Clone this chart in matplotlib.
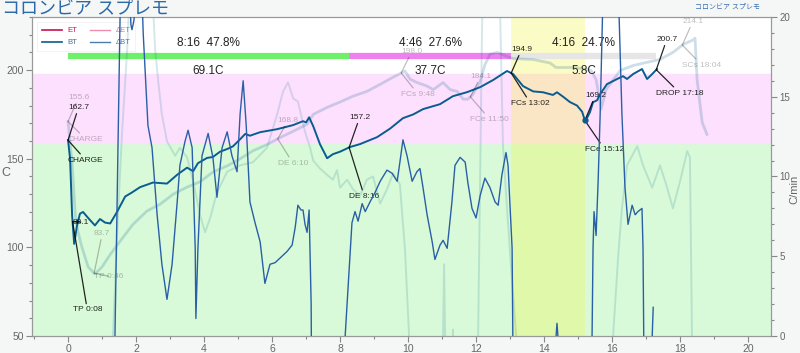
import numpy as np
import matplotlib.pyplot as plt
from matplotlib.lines import Line2D
from matplotlib.ticker import MultipleLocator

plt.rcParams['font.family'] = ['Liberation Sans', 'Noto Sans CJK JP', 'DejaVu Sans']

title = "コロンビア スプレモ"

# --- roast profile (time in minutes) ---
bt_time = [0.00, 0.06, 0.12, 0.18, 0.26, 0.35, 0.44, 0.62, 0.79, 0.94, 1.09, 1.24, 1.44, 1.68,
           1.88, 2.12, 2.50, 2.91, 3.21, 3.50, 3.68, 3.82, 4.09, 4.26, 4.47, 4.68, 4.85, 5.06,
           5.21, 5.35, 5.65, 6.15, 6.62, 6.91, 7.00, 7.09, 7.21, 7.41, 7.62, 7.79, 8.00, 8.29,
           8.59, 9.09, 9.47, 9.85, 10.15, 10.44, 10.94, 11.32, 11.74, 12.12, 12.50, 12.91, 13.09,
           13.38, 13.68, 13.97, 14.26, 14.38, 14.56, 14.76, 14.97, 15.12, 15.21, 15.35, 15.44,
           15.56, 15.65, 15.85, 16.15, 16.32, 16.44, 16.62, 16.88, 17.03, 17.18, 17.32]
bt_temp = [160.5, 150.0, 118.0, 102.0, 112.0, 119.0, 120.0, 116.0, 112.4, 116.0, 114.0, 113.5, 120.0, 128.7,
           131.0, 134.0, 136.6, 136.0, 141.0, 145.0, 143.0, 147.5, 150.5, 151.0, 154.0, 155.5, 157.0, 161.0,
           164.0, 163.0, 165.0, 166.7, 169.0, 171.2, 170.5, 173.4, 168.4, 158.2, 150.3, 152.6, 154.0, 156.6,
           158.3, 162.2, 167.0, 172.9, 175.0, 178.0, 180.8, 185.3, 187.6, 190.4, 194.4, 199.5, 197.8,
           191.0, 188.0, 187.5, 186.0, 187.5, 185.0, 182.0, 180.0, 176.5, 171.0, 176.3, 181.9,
           183.0, 186.5, 192.1, 195.0, 196.6, 195.0, 197.8, 200.6, 195.0, 197.8, 200.6]

dbt_time = [0.00, 1.20, 1.29, 1.38, 1.53, 1.59, 1.76, 1.85, 1.88, 1.94, 2.03, 2.12, 2.21, 2.35,
            2.47, 2.62, 2.76, 2.91, 3.06, 3.21, 3.29, 3.44, 3.53, 3.65, 3.74, 3.76, 3.82, 3.94,
            4.12, 4.26, 4.38, 4.53, 4.68, 4.82, 4.97, 5.06, 5.15, 5.24, 5.35, 5.50, 5.65, 5.79,
            5.94, 6.09, 6.24, 6.44, 6.59, 6.68, 6.76, 6.85, 6.91, 6.97, 7.03, 7.09, 7.15, 7.18,
            8.12, 8.15, 8.35, 8.44, 8.53, 8.65, 8.74, 8.88, 9.03, 9.18, 9.38, 9.53, 9.68, 9.76,
            9.85, 9.97, 10.12, 10.26, 10.35, 10.44, 10.56, 10.71, 10.79, 10.94, 11.03, 11.15, 11.29,
            11.38, 11.53, 11.68, 11.76, 11.88, 12.00, 12.12, 12.26, 12.41, 12.56, 12.65, 12.76,
            12.88, 12.94, 13.06, 13.12, 14.28, 14.32, 14.38, 14.44, 14.48, 15.36, 15.44, 15.47,
            15.53, 15.59, 15.65, 15.74, 15.79, 16.12, 16.18, 16.29, 16.38, 16.47, 16.59, 16.68,
            16.76, 16.88, 16.91, 16.97, 17.14, 17.18, 17.21]
dbt_rate = [-30.0, -10.0, -2.0, 0.0, 20.0, 26.0, 24.0, 19.5, 19.2, 19.8, 24.0, 25.0, 19.0, 13.2,
            11.8, 7.6, 4.5, 2.3, 4.5, 8.4, 10.7, 12.2, 12.9, 11.8, 5.5, 1.1, 5.5, 11.3,
            12.7, 11.2, 8.7, 11.8, 12.8, 11.3, 10.3, 13.9, 16.0, 13.2, 8.4, 7.1, 5.9, 3.3,
            4.5, 4.6, 4.9, 5.3, 5.7, 6.8, 8.2, 7.9, 7.9, 7.0, 6.5, 7.9, 2.0, -10.0,
            -10.0, 0.0, 7.1, 7.8, 7.2, 8.3, 7.8, 8.4, 9.0, 9.7, 10.4, 10.2, 9.7, 10.9,
            12.3, 11.3, 9.7, 10.3, 10.5, 9.3, 7.6, 5.9, 4.8, 5.7, 6.0, 5.5, 8.4,
            10.7, 11.2, 10.9, 9.6, 8.0, 7.4, 8.8, 9.9, 9.3, 8.4, 8.2, 10.1,
            11.5, 10.7, 5.5, -10.0, -10.0, -1.0, 0.8, -1.0, -10.0, -10.0, 5.5, 7.8,
            6.3, 9.7, 13.9, 22.0, 30.0, 30.0, 22.0, 13.9, 9.3, 7.0, 8.2, 7.6,
            7.8, 8.0, 5.5, -10.0, -10.0, 0.0, 1.8]

# --- background profile ---
bg_bt_time = [0.00, 0.12, 0.21, 0.29, 0.41, 0.59, 0.79, 1.00, 1.24, 1.53, 1.91, 2.32, 2.71, 3.09,
              3.50, 3.88, 4.26, 4.68, 5.06, 5.44, 5.85, 6.24, 6.62, 7.03, 7.21, 7.62, 8.00, 8.38,
              8.79, 9.18, 9.56, 9.91, 10.06, 10.26, 10.56, 10.74, 11.03, 11.24, 11.44, 11.62, 11.76,
              11.91, 12.12, 12.26, 12.41, 12.62, 12.91, 13.09, 13.68, 14.18, 14.35, 14.56, 14.94,
              15.24, 15.38, 15.53, 15.68, 15.82, 16.24, 16.62, 17.00, 17.41, 17.79, 18.09, 18.38,
              18.44, 18.50, 18.65, 18.79]
bg_bt_temp = [171.0, 147.0, 119.0, 109.0, 100.0, 89.0, 85.0, 89.0, 96.0, 103.5, 113.0, 120.5, 124.4, 130.0,
              134.0, 137.0, 142.5, 146.0, 150.0, 154.5, 158.0, 162.0, 165.5, 169.5, 175.0, 179.0, 182.0, 185.3,
              188.0, 192.0, 196.0, 199.5, 194.9, 193.0, 191.0, 189.0, 193.0, 189.0, 188.0, 183.6, 183.6,
              186.4, 193.7, 203.0, 209.0, 210.0, 207.8, 206.5, 206.0, 204.0, 201.5, 201.5, 201.5,
              200.4, 199.8, 194.7, 178.0, 189.0, 199.8, 202.6, 204.3, 206.0, 210.0, 214.5, 217.0,
              218.0, 194.8, 170.5, 163.8]

bg_dbt_time = [0.00, 1.24, 1.32, 1.47, 1.59, 1.74, 1.82, 1.97, 2.35, 2.47, 2.56, 2.65, 2.76, 2.91,
               3.15, 3.29, 3.50, 3.68, 3.88, 4.03, 4.18, 4.38, 4.68, 5.06, 5.44, 5.85, 6.15, 6.32,
               6.47, 6.62, 6.76, 6.97, 7.12, 7.21, 7.41, 7.62, 7.79, 7.91, 8.00, 8.21, 8.38, 8.59,
               8.79, 8.97, 9.18, 9.38, 9.56, 9.76, 9.91, 10.03, 10.06, 10.97, 11.03, 11.06, 11.09,
               11.12, 11.29, 11.32, 11.35, 12.00, 12.06, 12.12, 12.18, 12.24, 12.65, 12.71, 12.79,
               12.91, 13.06, 13.18, 13.24, 15.97, 16.03, 16.18, 16.29, 16.44, 16.74, 16.91, 17.18,
               17.41, 17.62, 17.79, 18.00, 18.21, 18.29, 18.35, 18.38]
bg_dbt_rate = [-30.0, -5.0, 0.0, 7.6, 12.8, 18.0, 22.0, 30.0, 30.0, 22.0, 18.0, 16.0, 13.9, 12.2,
               11.3, 11.8, 11.2, 9.7, 7.6, 6.5, 7.4, 9.0, 10.3, 10.7, 10.9, 11.8, 13.9, 15.3,
               15.9, 14.9, 14.7, 12.8, 11.8, 11.0, 10.5, 10.1, 9.8, 10.4, 9.3, 9.8, 9.2, 8.8,
               9.8, 10.0, 8.3, 9.2, 10.2, 9.5, 5.4, 0.0, -10.0, -10.0, 0.0, 4.5, 0.0,
               -10.0, -10.0, 0.4, -10.0, -10.0, 0.0, 10.0, 20.0, 30.0, 30.0, 20.0, 12.0,
               8.0, 3.4, 0.0, -10.0, -10.0, 0.0, 5.0, 8.0, 10.7, 11.9, 10.7, 9.3,
               10.7, 9.3, 8.0, 9.7, 11.6, 11.2, 0.0, -10.0]

# --- events ---
event_names = ["CHARGE", "TP", "DE", "FCs", "FCe", "DROP"]
event_times = [0.0, 0.133, 8.267, 13.033, 15.2, 17.3]
event_temps = ["162.7", "88.1", "157.2", "194.9", "169.2", "200.7"]
event_clock = ["", "0:08", "8:16", "13:02", "15:12", "17:18"]

bg_event_names = ["CHARGE", "TP", "DE", "FCs", "FCe", "SCs"]
bg_event_times = [0.0, 0.767, 6.167, 9.8, 11.833, 18.067]
bg_event_temps = ["155.6", "83.7", "168.8", "198.0", "184.1", "214.1"]
bg_event_clock = ["", "0:46", "6:10", "9:48", "11:50", "18:04"]

# --- phases ---
phase_times = [0.0, 8.267, 13.033, 17.3]
phase_labels = ["8:16  47.8%", "4:46  27.6%", "4:16  24.7%"]
phase_rise = ["69.1C", "37.7C", "5.8C"]
drying_limit = 159
maillard_limit = 198

fig = plt.figure(figsize=(8, 3.53), dpi=100, facecolor='#f5f6f6')
ax = fig.add_axes([0.04, 0.048, 0.924, 0.904])
ax.set_facecolor('white')
ax.set_xlim(-1.06, 20.68)
ax.set_ylim(50, 230)

ax.axhspan(50, drying_limit, color='#d8fad8', zorder=0)
ax.axhspan(drying_limit, maillard_limit, color='#fde0fd', zorder=0)
ax.axvspan(event_times[3], event_times[4], color='#f5f542', alpha=0.3, lw=0, zorder=0.5)

# phase bars
bar_colors = ['#6ef06a', '#f080f0', '#e6e6e6']
for i in range(3):
    ax.plot([phase_times[i], phase_times[i + 1]], [208, 208], color=bar_colors[i], lw=4.5,
            solid_capstyle='butt', zorder=1)
    mid = (phase_times[i] + phase_times[i + 1]) / 2
    ax.text(mid, 215.2, phase_labels[i], ha='center', va='center', fontsize=8.5, color='#222')
    ax.text(mid, 199.6, phase_rise[i], ha='center', va='center', fontsize=8.5, color='#222')

ax2 = ax.twinx()
ax2.set_ylim(0, 20)

# background profile
ax.plot(bg_bt_time, bg_bt_temp, color='#0a5c90', alpha=0.2, lw=2, zorder=2)
ax2.plot(bg_dbt_time, bg_dbt_rate, color='#1f7a9a', alpha=0.18, lw=1.4, zorder=2)

# foreground profile
ax.plot(bt_time, bt_temp, color='#0a5c90', lw=1.4, zorder=4)
ax2.plot(dbt_time, dbt_rate, color='#2a5fa8', lw=1.0, zorder=3)

# annotations
fg_label_y = [(179.0, 149.2), (114.3, 64.7), (173.4, 128.9), (211.8, 181.3), (185.8, 155.4), (217.4, 187.0)]
bg_label_y = [(184.7, 161.0), (107.9, 83.7), (171.8, 147.5), (210.7, 186.4), (196.6, 172.3), (227.6, 202.8)]


def annotate(times, names, temps, clocks, label_y, curve_t, curve_v, color, alpha):
    for i in range(len(times)):
        t = times[i]
        v = np.interp(t, curve_t, curve_v)
        ty, cy = label_y[i]
        lab = names[i] if clocks[i] == "" else names[i] + " " + clocks[i]
        for txt, yy in [(temps[i], ty), (lab, cy)]:
            ax.annotate(txt, xy=(t, v), xytext=(t, yy), ha='left', va='center',
                        fontsize=6, color=color, alpha=alpha, zorder=5,
                        arrowprops=dict(arrowstyle='-', color=color, alpha=alpha, lw=0.9,
                                        shrinkA=0, shrinkB=0))


annotate(bg_event_times, bg_event_names, bg_event_temps, bg_event_clock, bg_label_y,
         bg_bt_time, bg_bt_temp, '#000000', 0.25)
annotate(event_times, event_names, event_temps, event_clock, fg_label_y,
         bt_time, bt_temp, '#000000', 0.85)
ax.plot([event_times[4]], [np.interp(event_times[4], bt_time, bt_temp)], 'o', ms=3.5,
        color='#0a5c90', zorder=5)

# axes styling
for a in (ax, ax2):
    for s in a.spines.values():
        s.set_color('#999999')
        s.set_linewidth(0.8)
    a.tick_params(colors='#888888', labelcolor='#666666', labelsize=7.5, length=4, width=0.8, pad=2)
    a.tick_params(which='minor', colors='#888888', length=2.5, width=0.8)
ax2.tick_params(labelsize=7)
ax.xaxis.set_major_locator(MultipleLocator(2))
ax.xaxis.set_minor_locator(MultipleLocator(1))
ax.yaxis.set_major_locator(MultipleLocator(50))
ax.yaxis.set_minor_locator(MultipleLocator(10))
ax2.yaxis.set_major_locator(MultipleLocator(5))
ax2.yaxis.set_minor_locator(MultipleLocator(1))

ax.set_ylabel('C', rotation=0, fontsize=9, color='#666666', va='center')
ax.yaxis.set_label_coords(-0.036, 0.51)
ax2.set_ylabel('C/min', fontsize=8, color='#666666', va='center')
ax2.yaxis.set_label_coords(1.032, 0.46)

handles = [Line2D([], [], color='#cc0f50', lw=1.2), Line2D([], [], color='#0a5c90', lw=1.2),
           Line2D([], [], color='#f08cb0', lw=1.0), Line2D([], [], color='#4a7fb0', lw=1.0)]
leg = ax.legend(handles, ['ET', 'BT', 'ΔET', 'ΔBT'], ncol=2, loc='upper left',
                bbox_to_anchor=(0.002, 0.995), fontsize=5.5, frameon=True, handlelength=2.6,
                columnspacing=1.6, borderpad=0.6, labelspacing=0.6, fancybox=False,
                labelcolor=['#cc0f50', '#4a7090', '#e07098', '#4a7fb0'])
leg.get_frame().set_edgecolor('#eeeeee')
leg.get_frame().set_linewidth(0.6)

fig.text(0.002, 1 - 9 / 353, title, fontsize=13, color='#2a6aa8', ha='left', va='center')
fig.text(760 / 800, 1 - 7 / 353, title, fontsize=5, color='#3a70b0', ha='right', va='center')

fig.savefig('out.png', dpi=100, facecolor=fig.get_facecolor())
